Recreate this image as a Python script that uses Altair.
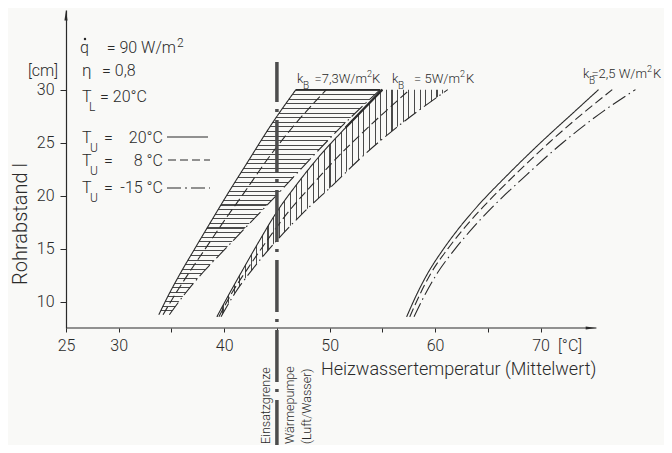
import altair as alt
import pandas as pd

# ---------------- data ----------------
TU_LABELS = ["20", "8", "-15"]

cm_73 = [8.8, 10.8, 12.8, 15.0, 17.5, 20.3, 23.3, 26.6, 30.0]
t73_20 = [33.8, 34.8, 35.9, 37.2, 38.7, 40.4, 42.3, 44.4, 46.8]
t73_8 = [34.2, 35.4, 36.7, 38.2, 39.9, 41.9, 44.0, 46.6, 49.7]
t73_m15 = [34.8, 36.3, 38.0, 40.1, 42.5, 45.2, 48.0, 51.2, 54.8]

cm_5 = [8.6, 10.8, 13.1, 15.7, 18.5, 21.1, 23.7, 26.4, 30.0]
t5_20 = [39.3, 40.5, 41.8, 43.3, 45.0, 46.9, 49.0, 51.5, 55.0]
t5_8 = [39.5, 40.7, 42.2, 44.0, 46.1, 48.4, 50.8, 53.6, 57.6]
t5_m15 = [39.7, 41.0, 42.7, 44.9, 47.6, 50.4, 53.1, 56.3, 61.2]

cm_25 = [8.6, 10.8, 12.7, 15.0, 17.0, 19.0, 22.0, 25.0, 28.0, 30.0]
t25_20 = [57.3, 58.3, 59.3, 60.8, 62.3, 64.0, 66.9, 70.0, 73.3, 75.5]
t25_8 = [57.6, 58.6, 59.6, 61.2, 62.8, 64.6, 67.6, 70.8, 74.3, 76.8]
t25_m15 = [58.0, 59.1, 60.2, 61.9, 63.6, 65.5, 68.7, 72.1, 76.0, 79.0]

x_ticks = [25, 30, 35, 40, 45, 50, 55, 60, 65, 70]
x_labels = [25, 30, 40, 50, 60, 70]
y_ticks = [10, 15, 20, 25, 30]
limit_temp = 45  # Einsatzgrenze Wärmepumpe

# ---------------- styling ----------------
FONT = "Roboto"
INK = "#2a2a2a"
BG = "#f9f9f7"
HATCH = "#4a4a4a"
X_DOMAIN = [25, 80]
Y_DOMAIN = [7.55, 37.5]
W, H = 580, 318
OX, OY = 66, 10  # page position of the plot origin

rows = []
for kb, cms, series in [
    ("7.3", cm_73, [t73_20, t73_8, t73_m15]),
    ("5", cm_5, [t5_20, t5_8, t5_m15]),
    ("2.5", cm_25, [t25_20, t25_8, t25_m15]),
]:
    for tu, ts in zip(TU_LABELS, series):
        for c, t in zip(cms, ts):
            rows.append({"kB": kb, "Tu": tu, "key": kb + "_" + tu, "cm": c, "T": t})
lines_df = pd.DataFrame(rows)

band73 = pd.DataFrame({"cm": cm_73, "tl": t73_20, "tr": t73_m15})
band5 = pd.DataFrame({"cm": cm_5, "tl": t5_20, "tr": t5_m15})

xscale = alt.Scale(domain=X_DOMAIN, nice=False, zero=False)
yscale = alt.Scale(domain=Y_DOMAIN, nice=False, zero=False)
label_test = "indexof([" + ",".join(str(v) for v in x_labels) + "], datum.value) >= 0 ? datum.label : ''"
xaxis = alt.Axis(values=x_ticks, labelExpr=label_test, domain=False, grid=False,
                 tickSize=4, tickColor=INK, tickWidth=1, labelPadding=5,
                 labelFont=FONT, labelFontSize=16, labelColor=INK, title=None,
                 labelOverlap=False, labelFlush=False, labelFontWeight=300)
yaxis = alt.Axis(values=y_ticks, domain=True, domainColor=INK, domainWidth=1.2, grid=False,
                 tickSize=6, tickColor=INK, tickWidth=1, labelPadding=6,
                 labelFont=FONT, labelFontSize=16, labelColor=INK, title=None,
                 labelFontWeight=300)


def X(f):
    return alt.X(f, type="quantitative", scale=xscale, axis=xaxis)


def Y(f):
    return alt.Y(f, type="quantitative", scale=yscale, axis=yaxis)


def stripes(n, w, horizontal):
    stops = []
    for i in range(n):
        o = i / n
        stops += [
            alt.GradientStop(offset=round(o, 5), color=HATCH),
            alt.GradientStop(offset=round(o + w, 5), color=HATCH),
            alt.GradientStop(offset=round(o + w, 5), color=BG),
            alt.GradientStop(offset=round((i + 1) / n, 5), color=BG),
        ]
    if horizontal:
        return alt.Gradient(gradient="linear", stops=stops, x1=0, y1=0, x2=0, y2=1)
    return alt.Gradient(gradient="linear", stops=stops, x1=0, y1=0, x2=1, y2=0)


one = pd.DataFrame({"a": [0]})


def txt(s, px, py, size=16, align="left", angle=0, baseline="alphabetic", weight=300):
    return alt.Chart(one).mark_text(
        text=s, font=FONT, fontSize=size, align=align, baseline=baseline,
        angle=angle, color=INK, fontWeight=weight
    ).encode(x=alt.value(px - OX), y=alt.value(py - OY))


def seg(px1, px2, py, dash=None, width=1.1):
    kw = {"color": INK, "strokeWidth": width}
    if dash:
        kw["strokeDash"] = dash
    return alt.Chart(one).mark_rule(**kw).encode(
        x=alt.value(px1 - OX), x2=alt.value(px2 - OX), y=alt.value(py - OY))


# hatched bands
area73 = alt.Chart(band73).mark_area(
    orient="horizontal", interpolate="monotone", fill=stripes(49, 0.0048, True), stroke=None
).encode(y=Y("cm"), x=X("tl"), x2="tr")
area5 = alt.Chart(band5).mark_area(
    orient="horizontal", interpolate="monotone", fill=stripes(41, 0.0047, False), stroke=None
).encode(y=Y("cm"), x=X("tl"), x2="tr")

# curves
curves = alt.Chart(lines_df).mark_line(interpolate="monotone", strokeWidth=1.1, color=INK).encode(
    x=X("T"), y=Y("cm"), detail="key:N", order="cm:Q",
    strokeDash=alt.StrokeDash("Tu:N", scale=alt.Scale(domain=TU_LABELS,
                              range=[[1, 0], [9, 4], [15, 4, 1.5, 4]]), legend=None),
)

top73 = alt.Chart(one).mark_rule(color=INK, strokeWidth=1.1).encode(
    x=alt.datum(t73_20[-1]), x2=alt.datum(t73_m15[-1]), y=alt.datum(cm_73[-1]))
overlap = alt.Chart(band5.iloc[-2:]).mark_line(interpolate="monotone", strokeWidth=2.2, color=INK).encode(
    x=X("tl"), y=Y("cm"), order="cm:Q")

# x axis line with arrow
xline = alt.Chart(one).mark_rule(color=INK, strokeWidth=1.2).encode(
    x=alt.datum(25), x2=alt.datum(75.3), y=alt.datum(Y_DOMAIN[0]))
xarrow = alt.Chart(one).mark_point(shape="M-1,-0.3L1,0L-1,0.3Z", filled=True, size=110,
                                   color=INK, opacity=1).encode(
    x=alt.datum(74.78), y=alt.datum(Y_DOMAIN[0]))
yarrow = alt.Chart(one).mark_point(shape="M-0.3,1L0,-1L0.3,1Z", filled=True, size=110,
                                   color=INK, opacity=1).encode(
    x=alt.datum(25), y=alt.datum(Y_DOMAIN[1] - 0.5))

# limit of the heat pump
vline = alt.Chart(one).mark_rule(color="#4d4d4d", strokeWidth=3.5, strokeDash=[52, 7, 3, 8],
                                 strokeDashOffset=12).encode(
    x=alt.datum(limit_temp), y=alt.value(62 - OY), y2=alt.value(453 - OY))

texts = [
    # parameter block
    txt("q", 80, 53),
    txt("= 90 W/m", 176, 53, align="right"),
    txt("2", 177, 47, size=12),
    txt("η", 82, 76, size=17),
    txt("= 0,8", 102, 76),
    txt("T", 82, 102),
    txt("L", 89, 111, size=12),
    txt("= 20°C", 100, 102),
    txt("T", 82, 143), txt("U", 90, 152, size=12), txt("=", 104, 143), txt("20°C", 163, 143, align="right"),
    txt("T", 82, 166), txt("U", 90, 175, size=12), txt("=", 104, 166), txt("8 °C", 163, 166, align="right"),
    txt("T", 82, 193), txt("U", 90, 202, size=12), txt("=", 104, 193), txt("-15 °C", 163, 193, align="right"),
    # axis texts
    txt("[cm]", 58, 76, align="right"),
    txt("[°C]", 558, 351),
    txt("Rohrabstand l", 21, 224, size=20, align="center", angle=270, baseline="middle"),
    txt("Heizwassertemperatur (Mittelwert)", 321, 375, size=18),
    txt("Einsatzgrenze", 266, 444, size=12.5, angle=270, baseline="middle"),
    txt("Wärmepumpe", 290, 444, size=12.5, angle=270, baseline="middle"),
    txt("(Luft/Wasser)", 307, 444, size=12.5, angle=270, baseline="middle"),
    # curve labels
    txt("k", 297, 83, size=13), txt("B", 303, 89, size=10),
    txt("=7,3W/m", 367, 83, size=13, align="right"), txt("2", 367, 77, size=9), txt("K", 372, 83, size=13),
    txt("k", 392, 83, size=13), txt("B", 398, 89, size=10),
    txt("= 5W/m", 460, 83, size=13, align="right"), txt("2", 460, 77, size=9), txt("K", 466, 83, size=13),
    txt("k", 583, 78, size=13), txt("B", 589, 84, size=10),
    txt("=2,5 W/m", 647, 78, size=13, align="right"), txt("2", 647, 72, size=9), txt("K", 653, 78, size=13),
]

qdot = alt.Chart(one).mark_point(shape="circle", filled=True, size=6, color=INK, opacity=1).encode(
    x=alt.value(85 - OX), y=alt.value(39 - OY))

legend_lines = [
    seg(167, 208, 137),
    seg(168, 210, 160, dash=[8, 4]),
    seg(167, 210, 188, dash=[14, 4, 2, 4]),
]

chart = alt.layer(
    area73, area5, curves, top73, overlap, xline, xarrow, yarrow, vline, qdot,
    *legend_lines, *texts
).properties(
    width=W, height=H,
    padding={"left": OX - 8, "top": OY - 8, "right": 672 - 8 - OX - W, "bottom": 453 - 8 - OY - H},
    autosize=alt.AutoSizeParams(type="none"),
    background=BG,
).configure_view(stroke=None)

chart.save("out.html", embed_options={"renderer": "svg", "actions": False})
